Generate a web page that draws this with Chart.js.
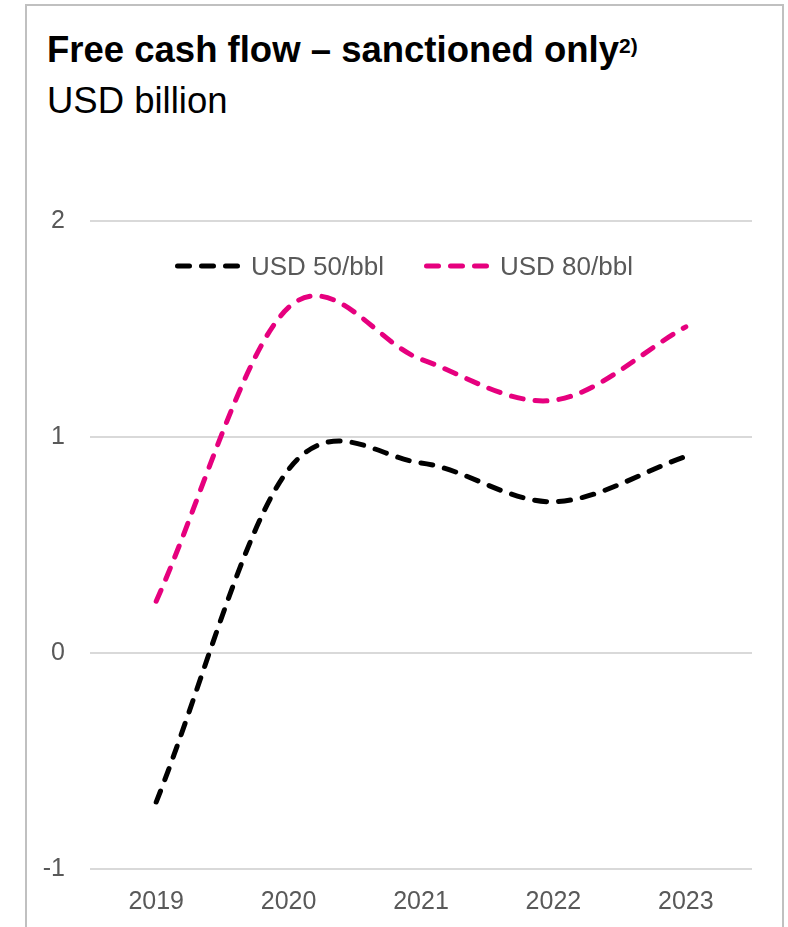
<!DOCTYPE html>
<html>
<head>
<meta charset="utf-8">
<script src="https://cdn.jsdelivr.net/npm/chart.js@4/dist/chart.umd.min.js"></script>
<style>
  html, body { margin: 0; padding: 0; background: #fff; }
  body { width: 788px; height: 927px; position: relative; overflow: hidden; font-family: 'Liberation Sans', Arial, sans-serif; }
  #frame { position: absolute; left: 25px; top: 4px; width: 755px; height: 960px; border: 2px solid #c0c0c0; border-bottom: none; }
  .t { position: absolute; left: 47px; font-size: 36.5px; line-height: 36px; color: #000; white-space: nowrap; }
  #title { top: 32px; font-weight: bold; }
  #title sup { font-size: 21px; vertical-align: baseline; position: relative; top: -9px; }
  #sub { top: 83px; }
  #c { position: absolute; left: 0; top: 0; }
  #legend { position: absolute; left: 174px; top: 251px; height: 30px; display: flex; align-items: center; z-index: 2; }
  #legend .item { display: flex; align-items: center; height: 30px; }
  #legend .item + .item { margin-left: 39px; }
  #legend svg { display: block; }
  #legend span { margin-left: 10px; font-size: 26px; line-height: 30px; color: #595959; white-space: nowrap; }
</style>
</head>
<body>
<div id="frame"></div>
<div class="t" id="title">Free cash flow – sanctioned only<sup>2)</sup></div>
<div class="t" id="sub">USD billion</div>
<canvas id="c" width="788" height="927"></canvas>
<div id="legend"></div>
<script>
const years = ['2019', '2020', '2021', '2022', '2023'];
const usd50 = [-0.69, 0.85, 0.88, 0.70, 0.91];
const usd80 = [0.24, 1.60, 1.36, 1.17, 1.51];
const seriesNames = ['USD 50/bbl', 'USD 80/bbl'];
const seriesColors = ['#000000', '#e6007e'];
const yTicks = [-1, 0, 1, 2];

const FONT = "'Liberation Sans', Arial, sans-serif";
const GREY = '#595959';
const DASH = [12, 12];

// Excel-like smoothing: Catmull-Rom control points from the library's own point positions
const smoothCR = {
  id: 'smoothCR',
  beforeDatasetsDraw(chart) {
    chart.getSortedVisibleDatasetMetas().forEach(meta => {
      const line = meta.dataset;
      const pts = meta.data;
      if (!line || pts.length < 2) return;
      line.updateControlPoints(chart.chartArea, meta.iScale.axis);
      const n = pts.length;
      for (let i = 0; i < n; i++) {
        const p = pts[i];
        let dx, dy;
        if (i === 0) {
          dx = (pts[1].x - p.x) / 3; dy = (pts[1].y - p.y) / 3;
        } else if (i === n - 1) {
          dx = (p.x - pts[n - 2].x) / 3; dy = (p.y - pts[n - 2].y) / 3;
        } else {
          dx = (pts[i + 1].x - pts[i - 1].x) / 6; dy = (pts[i + 1].y - pts[i - 1].y) / 6;
        }
        p.cp1x = p.x - dx; p.cp1y = p.y - dy;
        p.cp2x = p.x + dx; p.cp2y = p.y + dy;
      }
      line._pointsUpdated = true;
      line._path = undefined;
    });
  }
};

const chart = new Chart(document.getElementById('c'), {
  type: 'line',
  data: {
    labels: years,
    datasets: [usd50, usd80].map((d, i) => ({
      label: seriesNames[i],
      data: d,
      borderColor: seriesColors[i],
      backgroundColor: seriesColors[i],
      borderWidth: 5,
      borderDash: DASH,
      borderCapStyle: 'round',
      pointRadius: 0,
      pointHoverRadius: 0,
      tension: 0.4,
      fill: false
    }))
  },
  options: {
    responsive: false,
    animation: false,
    events: [],
    layout: { padding: { left: 0, right: 36, top: 221, bottom: 0 } },
    plugins: {
      title: { display: false },
      tooltip: { enabled: false },
      legend: { display: false }
    },
    scales: {
      x: {
        type: 'category',
        offset: true,
        grid: { display: false },
        border: { display: false },
        ticks: { color: GREY, font: { family: FONT, size: 25 }, padding: 10, maxRotation: 0 },
        afterFit(s) { s.height = 58; }
      },
      y: {
        min: yTicks[0],
        max: yTicks[yTicks.length - 1],
        afterBuildTicks(s) { s.ticks = yTicks.map(v => ({ value: v })); },
        grid: { color: '#d9d9d9', lineWidth: 2, drawTicks: false },
        border: { display: false },
        ticks: { color: GREY, font: { family: FONT, size: 25 }, padding: 25 },
        afterFit(s) { s.width = 90; }
      }
    }
  },
  plugins: [smoothCR]
});

// HTML legend built from the chart's datasets
const legendEl = document.getElementById('legend');
const NS = 'http://www.w3.org/2000/svg';
chart.data.datasets.forEach(ds => {
  const item = document.createElement('div');
  item.className = 'item';
  const svg = document.createElementNS(NS, 'svg');
  svg.setAttribute('width', '67');
  svg.setAttribute('height', '10');
  const ln = document.createElementNS(NS, 'line');
  ln.setAttribute('x1', '3.5'); ln.setAttribute('x2', '65.5');
  ln.setAttribute('y1', '5'); ln.setAttribute('y2', '5');
  ln.setAttribute('stroke', ds.borderColor);
  ln.setAttribute('stroke-width', ds.borderWidth);
  ln.setAttribute('stroke-linecap', 'round');
  ln.setAttribute('stroke-dasharray', ds.borderDash.join(' '));
  svg.appendChild(ln);
  const txt = document.createElement('span');
  txt.textContent = ds.label;
  item.appendChild(svg);
  item.appendChild(txt);
  legendEl.appendChild(item);
});
</script>
</body>
</html>
